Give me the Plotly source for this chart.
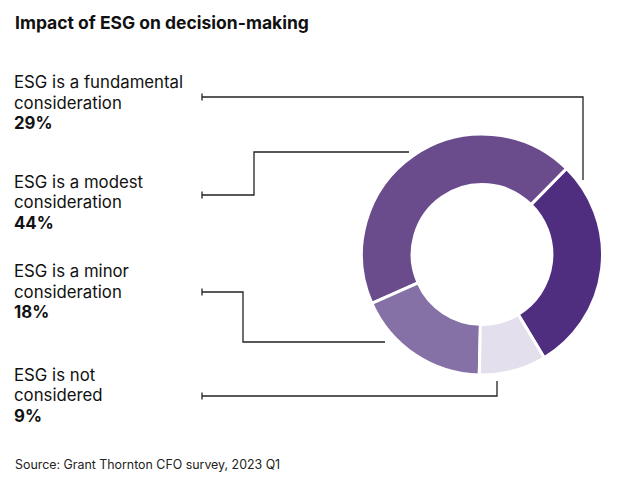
import plotly.graph_objects as go

title = "Impact of ESG on decision-making"
source = "Source: Grant Thornton CFO survey, 2023 Q1"
categories = ["ESG is a fundamental<br>consideration", "ESG is a modest<br>consideration",
              "ESG is a minor<br>consideration", "ESG is not<br>considered"]
values = [29, 44, 18, 9]
colors = ["#4F2D7F", "#6A4C8D", "#8671A6", "#E4DFEC"]

W, H = 633, 483
FONT = "Inter"

fig = go.Figure()

cx, cy, r = 482, 254.5, 120.5
fig.add_trace(go.Pie(
    labels=[c.replace("<br>", " ") for c in categories], values=values, sort=False,
    direction="counterclockwise", rotation=44.5, hole=0.58,
    marker=dict(colors=colors, line=dict(color="white", width=3)),
    textinfo="none", hoverinfo="label+percent", showlegend=False,
    domain=dict(x=[(cx - r) / W, (cx + r) / W], y=[(H - cy - r) / H, (H - cy + r) / H]),
))

# invisible pixel-coordinate axes for labels and connectors
fig.add_trace(go.Scatter(x=[0, W], y=[0, H], mode="markers", marker=dict(opacity=0),
                         hoverinfo="skip", showlegend=False))
fig.update_xaxes(range=[0, W], visible=False, fixedrange=True)
fig.update_yaxes(range=[H, 0], visible=False, fixedrange=True)

label_top = [82, 181.5, 271, 374.5]
LS = 20.5
for cat, v, y0 in zip(categories, values, label_top):
    lines = cat.split("<br>") + [f"<b>{v}%</b>"]
    for i, ln in enumerate(lines):
        fig.add_annotation(x=13, y=y0 + i * LS, xref="x", yref="y", xanchor="left",
                           yanchor="middle", align="left", showarrow=False, borderpad=0,
                           text=ln, font=dict(family=FONT, size=16.8, color="#111"))

connectors = [
    "M 202 97 L 583 97 L 583 180",
    "M 202 195 L 254 195 L 254 152 L 409 152",
    "M 202 292 L 243 292 L 243 342 L 385 342",
    "M 202 396 L 497 396 L 497 381",
]
for p, y in zip(connectors, [97, 195, 292, 396]):
    fig.add_shape(type="path", path=p, xref="x", yref="y", line=dict(color="#222", width=1.3))
    fig.add_shape(type="line", x0=202, x1=202, y0=y - 3.5, y1=y + 3.5, xref="x", yref="y",
                  line=dict(color="#222", width=1.3))

fig.add_annotation(x=13, y=22, xref="x", yref="y", xanchor="left", yanchor="middle",
                   showarrow=False, text=f"<b>{title}</b>",
                   font=dict(family=FONT, size=17.5, color="#111"))
fig.add_annotation(x=13, y=464, xref="x", yref="y", xanchor="left", yanchor="middle",
                   showarrow=False, text=source,
                   font=dict(family=FONT, size=12.4, color="#222"))

fig.update_layout(width=W, height=H, margin=dict(l=0, r=0, t=0, b=0),
                  paper_bgcolor="white", plot_bgcolor="white")
fig.write_html("out.html", config={"displayModeBar": False},
               post_script="document.body.style.margin='0';document.body.style.overflow='hidden';")
